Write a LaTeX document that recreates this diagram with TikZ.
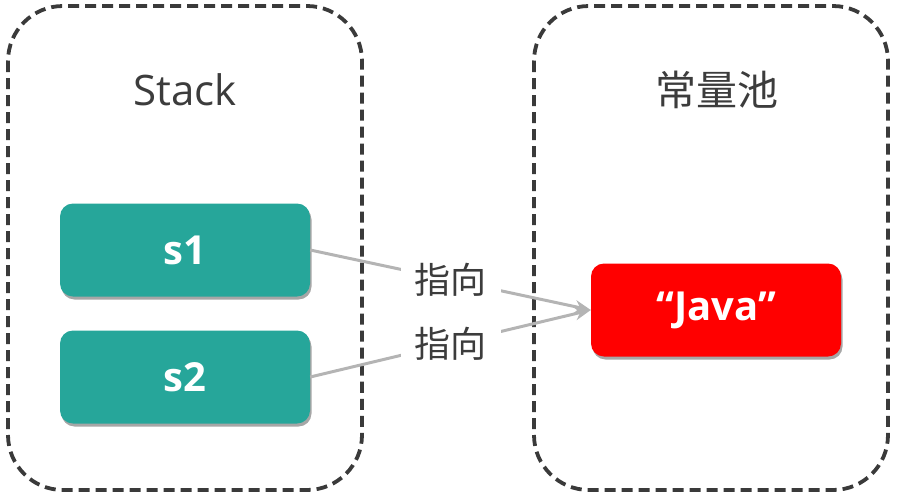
\documentclass[tikz,border=0pt]{standalone}
\usepackage{fontspec}
\setmainfont{Open Sans}
\newfontfamily\cjk{Noto Sans CJK SC}
\usetikzlibrary{shadows,arrows.meta}
\definecolor{teal1}{HTML}{26A69A}
\definecolor{red1}{HTML}{FF0000}
\definecolor{dash1}{HTML}{3A3A3A}
\definecolor{txt1}{HTML}{3C3C3C}
\definecolor{arr1}{HTML}{B4B4B4}
\tikzset{
  region/.style={draw=dash1, line width=3.8pt, dash pattern=on 11pt off 6pt, rounded corners=55pt},
  title/.style={text=txt1, font=\fontsize{42}{46}\selectfont},
  cbox/.style={minimum width=250pt, minimum height=93pt, rounded corners=13pt, text=white,
    font=\bfseries\fontsize{40}{44}\selectfont,
    drop shadow={shadow xshift=1.5pt, shadow yshift=-3pt, opacity=0.35, fill=black}},
  link/.style={draw=arr1, line width=3pt},
  lbl/.style={fill=white, text=txt1, inner xsep=14pt, inner ysep=2pt, font=\cjk\fontsize{36}{40}\selectfont}
}
\begin{document}
\begin{tikzpicture}[x=1pt,y=-1pt]
\useasboundingbox (0,0) rectangle (897,496);
\draw[region] (8,6) rectangle (362,490);
\draw[region] (534,6) rectangle (888,490);
\node[title] (stack) at (185,90) {Stack};
\node[title, font=\cjk\fontsize{41}{45}\selectfont] (pool) at (717,90) {常量池};
\node[cbox, fill=teal1] (s1) at (185,250) {s1};
\node[cbox, fill=teal1] (s2) at (185,377) {s2};
\node[cbox, fill=red1] (java) at (716,310) {“Java”};
\draw[link, -{Stealth[length=16pt,width=13pt]}] (s1.east) -- node[lbl] (l1) {指向} (java.west);
\draw[link, -{Stealth[length=16pt,width=13pt]}] (s2.east) -- node[lbl] (l2) {指向} (java.west);
\end{tikzpicture}
\end{document}
